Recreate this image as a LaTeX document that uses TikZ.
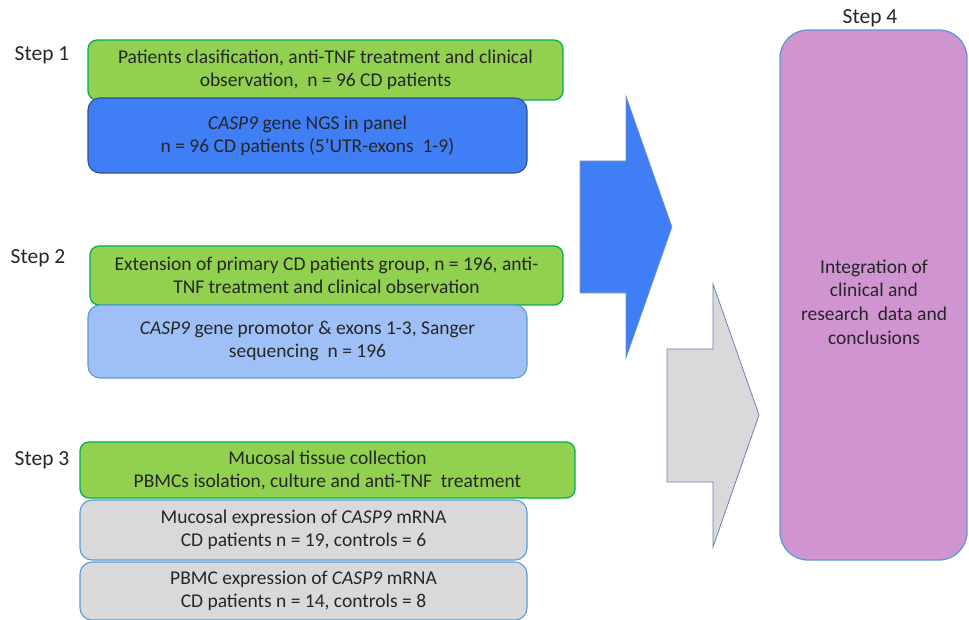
\documentclass[tikz,border=0pt]{standalone}
\usepackage{fontspec}
\setmainfont{Carlito}
\usepackage{tikz}
\usetikzlibrary{shapes}
\usepackage{xcolor}
\definecolor{stepgreen}{HTML}{92D050}
\definecolor{greenline}{HTML}{00B050}
\definecolor{ngsblue}{HTML}{3F7EF5}
\definecolor{ngsline}{HTML}{2F528F}
\definecolor{sangerblue}{HTML}{9FC0F7}
\definecolor{boxline}{HTML}{5B9BD5}
\definecolor{exprgray}{HTML}{D9D9D9}
\definecolor{arrowline}{HTML}{6A83B5}
\definecolor{concpink}{HTML}{D094D0}
\definecolor{textgray}{HTML}{262626}

\begin{document}
\begin{tikzpicture}[x=1pt,y=-1pt]
\tikzstyle{every node}+=[inner sep=0pt, text=textgray, font=\fontsize{19.5}{23}\selectfont, align=center]
\tikzstyle{steplabel}=[font=\fontsize{21.5}{24}\selectfont]
\tikzstyle{greenbox}=[draw=greenline, line width=1.3pt, fill=stepgreen, rounded corners=9pt]
\tikzstyle{bluebox}=[draw=ngsline, line width=1.1pt, fill=ngsblue, rounded corners=12pt]
\tikzstyle{lightbox}=[draw=boxline, line width=1.1pt, fill=sangerblue, rounded corners=12pt]
\tikzstyle{graybox}=[draw=boxline, line width=1.1pt, fill=exprgray, rounded corners=12pt]
\useasboundingbox (0,0) rectangle (969,620);
% step 1
\draw (42,55) node [steplabel] (lab1) {Step 1};
\draw (325.5,70) node [greenbox, minimum width=475pt, minimum height=60pt] (s1green) {Patients clasification, anti-TNF treatment and clinical\\observation,\ \ n = 96 CD patients};
\draw (307.5,135.5) node [bluebox, minimum width=439pt, minimum height=75pt] (s1ngs) {\textit{CASP9} gene NGS in panel\\n = 96 CD patients (5’UTR-exons\ \ 1-9)};
% step 2
\draw (38,258) node [steplabel] (lab2) {Step 2};
\draw (326.5,275.5) node [greenbox, minimum width=473pt, minimum height=59pt] (s2green) {Extension of primary CD patients group, n = 196, anti-\\TNF treatment and clinical observation};
\draw (307.5,341.5) node [lightbox, minimum width=439pt, minimum height=73pt] (s2sanger) {\textit{CASP9} gene promotor \& exons 1-3, Sanger\\sequencing\ \ n = 196};
% step 3
\draw (42,460) node [steplabel] (lab3) {Step 3};
\draw (327.5,470) node [greenbox, minimum width=495pt, minimum height=56pt] (s3green) {Mucosal tissue collection\\PBMCs isolation, culture and anti-TNF\ \ treatment};
\draw (303.5,530) node [graybox, minimum width=447pt, minimum height=60pt] (s3muc) {Mucosal expression of \textit{CASP9} mRNA\\CD patients n = 19, controls = 6};
\draw (303.5,591) node [graybox, minimum width=447pt, minimum height=58pt] (s3pbmc) {PBMC expression of \textit{CASP9} mRNA\\CD patients n = 14, controls = 8};
% block arrows
\draw [ngsline!60, line width=0.6pt, fill=ngsblue] (580,161) -- (626,161) -- (626,96) -- (672,227) -- (626,358) -- (626,293) -- (580,293) -- cycle;
\draw [arrowline, line width=0.8pt, fill=exprgray] (667,349) -- (713,349) -- (713,284) -- (759,415) -- (713,547) -- (713,482) -- (667,482) -- cycle;
% step 4
\draw (870,18) node [steplabel] (lab4) {Step 4};
\draw (873.5,295) node [draw=boxline, line width=1.3pt, fill=concpink, rounded corners=28pt, minimum width=187pt, minimum height=530pt] (conc) {};
\draw (874,302) node [font=\fontsize{19.5}{23.7}\selectfont] (conctext) {Integration of\\clinical and\\research\ \ data and\\conclusions};
\end{tikzpicture}
\end{document}
